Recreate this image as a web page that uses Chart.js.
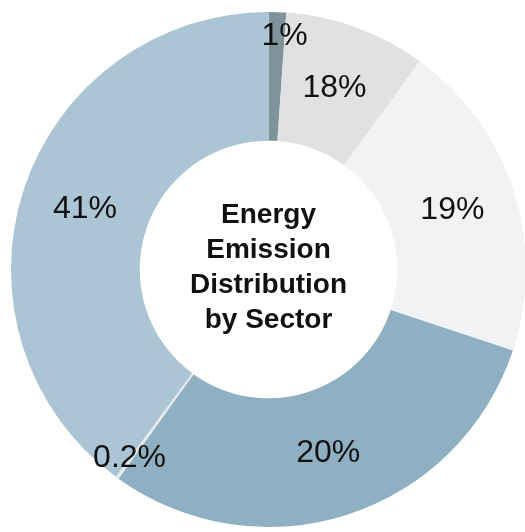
<!DOCTYPE html>
<html>
<head>
<meta charset="utf-8">
<script src="https://cdn.jsdelivr.net/npm/chart.js@4"></script>
<style>
  html, body { margin: 0; padding: 0; background: #fff; overflow: hidden; }
  #wrap { position: relative; width: 540px; height: 532px; }
</style>
</head>
<body>
<div id="wrap"><canvas id="chart"></canvas></div>
<script>
// slice sizes (share of the ring), and the printed labels
const sectors = ['1%', '18%', '19%', '20%', '0.2%', '41%'];
const shares = [1.1, 8.9, 20.1, 29.8, 0.2, 39.9];
const printedLabels = ['1%', '18%', '19%', '20%', '0.2%', '41%'];
const sliceColors = ['#7f939b', '#e0e1e3', '#f1f2f4', '#8fb0c2', '#e6eaec', '#abc5d4'];
const centerLines = ['Energy', 'Emission', 'Distribution', 'by Sector'];

const labelPlugin = {
    id: 'sliceLabels',
    afterDatasetsDraw(chart) {
        const ctx = chart.ctx;
        const meta = chart.getDatasetMeta(0);
        ctx.save();
        ctx.fillStyle = '#111';
        ctx.font = '32px "Liberation Sans", Arial, sans-serif';
        ctx.textAlign = 'center';
        ctx.textBaseline = 'middle';
        meta.data.forEach((arc, i) => {
            const p = arc.getProps(['x', 'y', 'startAngle', 'endAngle', 'innerRadius', 'outerRadius'], true);
            let a, r;
            if (shares[i] < 2) {
                // thin slices get their label pushed out to the rim
                a = p.endAngle;
                r = p.outerRadius * 0.91;
            } else {
                a = (p.startAngle + p.endAngle) / 2;
                r = (p.innerRadius + p.outerRadius) / 2;
            }
            ctx.fillText(printedLabels[i], p.x + r * Math.cos(a), p.y + r * Math.sin(a));
        });

        // title in the hole
        const c = meta.data[0];
        ctx.font = 'bold 28px "Liberation Sans", Arial, sans-serif';
        ctx.textBaseline = 'alphabetic';
        centerLines.forEach((line, i) => {
            ctx.fillText(line, c.x, c.y + (i - 1.5) * 35 + 6);
        });
        ctx.restore();
    }
};

new Chart(document.getElementById('chart').getContext('2d'), {
    type: 'doughnut',
    data: {
        labels: sectors,
        datasets: [{
            data: shares,
            backgroundColor: sliceColors,
            borderWidth: 0
        }]
    },
    options: {
        responsive: true,
        maintainAspectRatio: false,
        animation: false,
        cutout: '50%',
        layout: { padding: { left: 11, right: 14, top: 12, bottom: 5 } },
        plugins: {
            legend: { display: false },
            tooltip: { enabled: false }
        }
    },
    plugins: [labelPlugin]
});
</script>
</body>
</html>
